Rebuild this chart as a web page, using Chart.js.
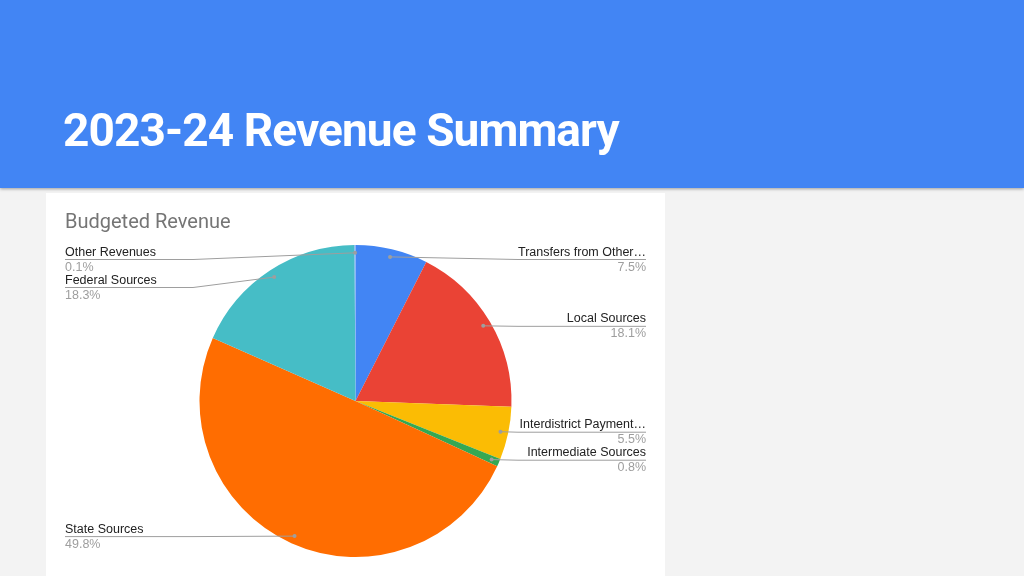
<!DOCTYPE html>
<html><head><meta charset="utf-8">
<script src="https://cdn.jsdelivr.net/npm/chart.js@4.4.1/dist/chart.umd.min.js"></script>
<style>
html,body{margin:0;padding:0;width:1024px;height:576px;overflow:hidden;background:#f3f3f3;}
#hdr{position:absolute;left:0;top:0;width:1024px;height:188px;background:#4285f4;box-shadow:0 1px 3px rgba(0,0,0,0.35);z-index:2}
#ttl{position:absolute;left:63px;top:107px;font:bold 46px Roboto,sans-serif;line-height:46px;color:#fff;white-space:nowrap;letter-spacing:-0.9px}
#card{position:absolute;left:46px;top:193px;width:619px;height:383px;background:#fff;}
canvas{display:block}
</style></head>
<body>
<div id="hdr"><div id="ttl">2023-24 Revenue Summary</div></div>
<div id="card"><canvas id="c" width="619" height="383"></canvas></div>
<script>
const chartTitle = "Budgeted Revenue";
const categories = ["Transfers from Other…", "Local Sources", "Interdistrict Payment…", "Intermediate Sources", "State Sources", "Federal Sources", "Other Revenues"];
const shares = [7.5, 18.1, 5.5, 0.8, 49.8, 18.3, 0.1];
const colors = ["#4285f4", "#ea4335", "#fbbc04", "#34a853", "#ff6d01", "#46bdc6", "#7baaf7"];

const labelPlugin = {
  id: 'gLabels',
  afterDraw(chart) {
    const ctx = chart.ctx;
    ctx.save();
    ctx.font = '20px Roboto, sans-serif';
    ctx.fillStyle = '#757575';
    ctx.textAlign = 'left';
    ctx.textBaseline = 'alphabetic';
    ctx.fillText(chartTitle, 19, 35);

    const meta = chart.getDatasetMeta(0);
    const items = meta.data.map((arc, i) => {
      const p = arc.getProps(['x','y','startAngle','endAngle','outerRadius'], true);
      const mid = (p.startAngle + p.endAngle) / 2;
      const r = p.outerRadius * 0.95;
      return {i, dx: p.x + Math.cos(mid) * r, dy: p.y + Math.sin(mid) * r, side: Math.cos(mid) >= 0 ? 'R' : 'L'};
    });
    const minY = 66, gap = 28;
    ['L','R'].forEach(side => {
      const arr = items.filter(o => o.side === side).sort((a,b) => a.dy - b.dy);
      let prev = -1e9;
      arr.forEach(o => {
        o.ly = Math.max(o.dy, prev + gap, minY);
        prev = o.ly;
      });
    });
    const leftX = 19, rightX = 600, seg = 128;
    items.forEach(o => {
      const isL = o.side === 'L';
      const x0 = isL ? leftX : rightX;
      const x1 = isL ? leftX + seg : rightX - seg;
      ctx.strokeStyle = '#9e9e9e';
      ctx.lineWidth = 1;
      ctx.beginPath();
      ctx.moveTo(x0, o.ly + 0.5);
      ctx.lineTo(x1, o.ly + 0.5);
      ctx.lineTo(o.dx, o.dy);
      ctx.stroke();
      ctx.fillStyle = '#9e9e9e';
      ctx.beginPath();
      ctx.arc(o.dx, o.dy, 2, 0, Math.PI * 2);
      ctx.fill();
      ctx.textAlign = isL ? 'left' : 'right';
      ctx.font = '12.5px "Liberation Sans", Arial, sans-serif';
      ctx.fillStyle = '#222222';
      ctx.fillText(categories[o.i], x0, o.ly - 3.5);
      ctx.fillStyle = '#9e9e9e';
      ctx.fillText(shares[o.i].toFixed(1) + '%', x0, o.ly + 11.5);
    });
    ctx.restore();
  }
};

new Chart(document.getElementById('c'), {
  type: 'pie',
  data: {
    labels: categories,
    datasets: [{ data: shares, backgroundColor: colors, borderWidth: 0, hoverOffset: 0 }]
  },
  options: {
    responsive: false,
    animation: false,
    layout: { padding: { top: 52, bottom: 19, left: 0, right: 0 } },
    plugins: { legend: { display: false }, tooltip: { enabled: false } }
  },
  plugins: [labelPlugin]
});
</script>
</body></html>
